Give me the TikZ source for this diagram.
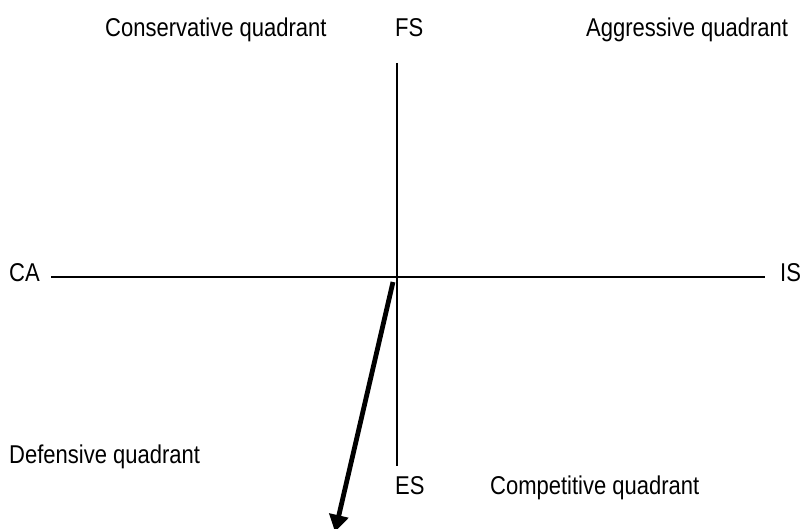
\documentclass[tikz,border=0pt]{standalone}
\usepackage{fontspec}
\setmainfont{Liberation Sans}
\usetikzlibrary{arrows.meta}
\newcommand{\tallq}[1]{\scalebox{1}[1.17]{#1}}
\tikzset{
  qlbl/.style={font=\fontsize{22}{25}\selectfont,inner sep=0pt,anchor=base west},
  vaxis/.style={line width=2.2pt},
  haxis/.style={line width=1.1pt},
  movearrow/.style={-{Triangle[length=17pt,width=19pt]},line width=4.8pt},
}
\begin{document}
\begin{tikzpicture}[x=1pt,y=-1pt]
  \useasboundingbox (0,0) rectangle (800,529);

  % axis ends
  \coordinate (fsend) at (397,63);
  \coordinate (esend) at (397,466);
  \coordinate (caend) at (51,277);
  \coordinate (isend) at (765,277);

  % labels
  \node[qlbl] (cons) at (105,37) {\tallq{Conservative quadrant}};
  \node[qlbl] (fs)   at (395,37) {\tallq{FS}};
  \node[qlbl] (aggr) at (586,37) {\tallq{Aggressive quadrant}};
  \node[qlbl] (ca)   at (9,282)  {\tallq{CA}};
  \node[qlbl] (is)   at (780,282) {\tallq{IS}};
  \node[qlbl] (defn) at (9,463)  {\tallq{Defensive quadrant}};
  \node[qlbl] (es)   at (395,494) {\tallq{ES}};
  \node[qlbl] (comp) at (490,494) {\tallq{Competitive quadrant}};

  % axes
  \draw[vaxis] (fsend) -- (esend);
  \draw[haxis] (caend) -- (isend);

  % strategic movement
  \coordinate (mvstart) at (393,282);
  \coordinate (mvend) at (335,532);
  \draw[movearrow] (mvstart) -- (mvend);
\end{tikzpicture}
\end{document}
